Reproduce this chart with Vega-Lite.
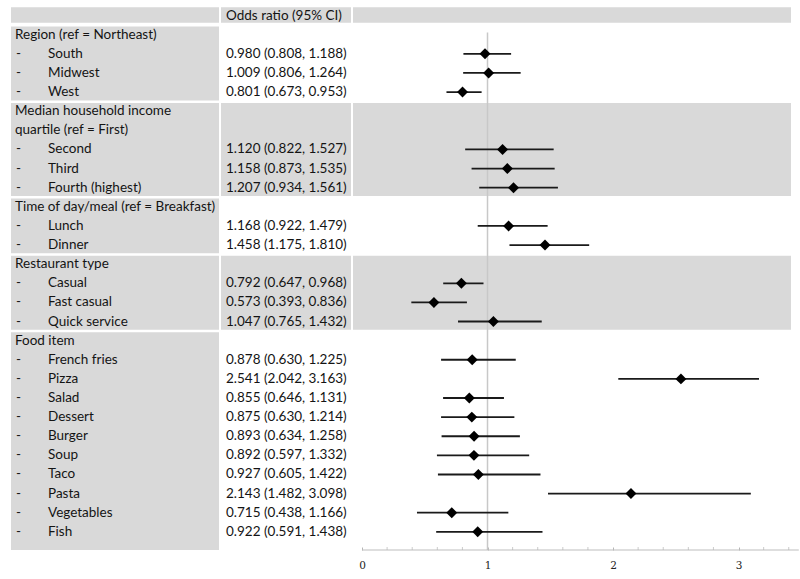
{
  "$schema": "https://vega.github.io/schema/vega-lite/v6.json",
  "padding": {"left": 11, "top": 7, "right": 0, "bottom": 0},
  "background": "white",
  "config": {"view": {"stroke": null}, "text": {"font": "Lato", "fontSize": 13.5, "color": "#141414", "baseline": "middle", "align": "left"}},
  "bounds": "flush",
  "spacing": 2,
  "datasets": {
    "rows": [
      {"row": 0, "kind": "header", "label": "Odds ratio (95% CI)"},
      {"row": 1, "kind": "group", "label": "Region (ref = Northeast)"},
      {"row": 2, "kind": "item", "label": "South", "or": 0.980, "lo": 0.808, "hi": 1.188, "ci": "0.980 (0.808, 1.188)"},
      {"row": 3, "kind": "item", "label": "Midwest", "or": 1.009, "lo": 0.806, "hi": 1.264, "ci": "1.009 (0.806, 1.264)"},
      {"row": 4, "kind": "item", "label": "West", "or": 0.801, "lo": 0.673, "hi": 0.953, "ci": "0.801 (0.673, 0.953)"},
      {"row": 5, "kind": "group", "label": "Median household income"},
      {"row": 6, "kind": "group", "label": "quartile (ref = First)"},
      {"row": 7, "kind": "item", "label": "Second", "or": 1.120, "lo": 0.822, "hi": 1.527, "ci": "1.120 (0.822, 1.527)"},
      {"row": 8, "kind": "item", "label": "Third", "or": 1.158, "lo": 0.873, "hi": 1.535, "ci": "1.158 (0.873, 1.535)"},
      {"row": 9, "kind": "item", "label": "Fourth (highest)", "or": 1.207, "lo": 0.934, "hi": 1.561, "ci": "1.207 (0.934, 1.561)"},
      {"row": 10, "kind": "group", "label": "Time of day/meal (ref = Breakfast)"},
      {"row": 11, "kind": "item", "label": "Lunch", "or": 1.168, "lo": 0.922, "hi": 1.479, "ci": "1.168 (0.922, 1.479)"},
      {"row": 12, "kind": "item", "label": "Dinner", "or": 1.458, "lo": 1.175, "hi": 1.810, "ci": "1.458 (1.175, 1.810)"},
      {"row": 13, "kind": "group", "label": "Restaurant type"},
      {"row": 14, "kind": "item", "label": "Casual", "or": 0.792, "lo": 0.647, "hi": 0.968, "ci": "0.792 (0.647, 0.968)"},
      {"row": 15, "kind": "item", "label": "Fast casual", "or": 0.573, "lo": 0.393, "hi": 0.836, "ci": "0.573 (0.393, 0.836)"},
      {"row": 16, "kind": "item", "label": "Quick service", "or": 1.047, "lo": 0.765, "hi": 1.432, "ci": "1.047 (0.765, 1.432)"},
      {"row": 17, "kind": "group", "label": "Food item"},
      {"row": 18, "kind": "item", "label": "French fries", "or": 0.878, "lo": 0.630, "hi": 1.225, "ci": "0.878 (0.630, 1.225)"},
      {"row": 19, "kind": "item", "label": "Pizza", "or": 2.541, "lo": 2.042, "hi": 3.163, "ci": "2.541 (2.042, 3.163)"},
      {"row": 20, "kind": "item", "label": "Salad", "or": 0.855, "lo": 0.646, "hi": 1.131, "ci": "0.855 (0.646, 1.131)"},
      {"row": 21, "kind": "item", "label": "Dessert", "or": 0.875, "lo": 0.630, "hi": 1.214, "ci": "0.875 (0.630, 1.214)"},
      {"row": 22, "kind": "item", "label": "Burger", "or": 0.893, "lo": 0.634, "hi": 1.258, "ci": "0.893 (0.634, 1.258)"},
      {"row": 23, "kind": "item", "label": "Soup", "or": 0.892, "lo": 0.597, "hi": 1.332, "ci": "0.892 (0.597, 1.332)"},
      {"row": 24, "kind": "item", "label": "Taco", "or": 0.927, "lo": 0.605, "hi": 1.422, "ci": "0.927 (0.605, 1.422)"},
      {"row": 25, "kind": "item", "label": "Pasta", "or": 2.143, "lo": 1.482, "hi": 3.098, "ci": "2.143 (1.482, 3.098)"},
      {"row": 26, "kind": "item", "label": "Vegetables", "or": 0.715, "lo": 0.438, "hi": 1.166, "ci": "0.715 (0.438, 1.166)"},
      {"row": 27, "kind": "item", "label": "Fish", "or": 0.922, "lo": 0.591, "hi": 1.438, "ci": "0.922 (0.591, 1.438)"}
    ],
    "blocks": [
      {"block": "Region", "first": 1, "last": 4, "shaded": false},
      {"block": "Income", "first": 5, "last": 9, "shaded": true},
      {"block": "Time", "first": 10, "last": 12, "shaded": false},
      {"block": "Restaurant", "first": 13, "last": 16, "shaded": true},
      {"block": "Food", "first": 17, "last": 28, "shaded": false}
    ],
    "ticks": [
      {"t": 0.2}, {"t": 0.4}, {"t": 0.6}, {"t": 0.8}, {"t": 1.2}, {"t": 1.4}, {"t": 1.6}, {"t": 1.8},
      {"t": 2.2}, {"t": 2.4}, {"t": 2.6}, {"t": 2.8}, {"t": 3.2}, {"t": 3.4}
    ]
  },
  "hconcat": [
    {
      "width": 208,
      "height": 543,
      "layer": [
        {
          "data": {"name": "rows"},
          "transform": [{"filter": "datum.kind === 'header'"}],
          "mark": {"type": "rect", "color": "#d9d9d9", "yOffset": -8.3, "y2Offset": 7.1},
          "encoding": {
            "x": {"value": 0}, "x2": {"value": "width"},
            "y": {"field": "row", "type": "quantitative", "scale": {"domain": [-0.45, 27.95], "reverse": true, "nice": false, "zero": false}, "axis": null},
            "y2": {"field": "row"}
          }
        },
        {
          "data": {"name": "blocks"},
          "mark": {"type": "rect", "color": "#d9d9d9", "yOffset": -8.3, "y2Offset": 8.3, "clip": true},
          "encoding": {
            "x": {"value": 0}, "x2": {"value": "width"},
            "y": {"field": "first", "type": "quantitative"},
            "y2": {"field": "last"}
          }
        },
        {
          "data": {"name": "rows"},
          "transform": [{"filter": "datum.kind === 'group'"}],
          "mark": {"type": "text", "dx": 4},
          "encoding": {
            "x": {"value": 0},
            "y": {"field": "row", "type": "quantitative"},
            "text": {"field": "label"}
          }
        },
        {
          "data": {"name": "rows"},
          "transform": [{"filter": "datum.kind === 'item'"}],
          "mark": {"type": "text", "dx": 5},
          "encoding": {
            "x": {"value": 0},
            "y": {"field": "row", "type": "quantitative"},
            "text": {"value": "-"}
          }
        },
        {
          "data": {"name": "rows"},
          "transform": [{"filter": "datum.kind === 'item'"}],
          "mark": {"type": "text", "dx": 37},
          "encoding": {
            "x": {"value": 0},
            "y": {"field": "row", "type": "quantitative"},
            "text": {"field": "label"}
          }
        }
      ]
    },
    {
      "width": 130,
      "height": 543,
      "layer": [
        {
          "data": {"name": "rows"},
          "transform": [{"filter": "datum.kind === 'header'"}],
          "mark": {"type": "rect", "color": "#d9d9d9", "yOffset": -8.3, "y2Offset": 7.1},
          "encoding": {
            "x": {"value": 0}, "x2": {"value": "width"},
            "y": {"field": "row", "type": "quantitative", "scale": {"domain": [-0.45, 27.95], "reverse": true, "nice": false, "zero": false}, "axis": null},
            "y2": {"field": "row"}
          }
        },
        {
          "data": {"name": "blocks"},
          "transform": [{"filter": "datum.shaded"}],
          "mark": {"type": "rect", "color": "#d9d9d9", "yOffset": -8.3, "y2Offset": 8.3, "clip": true},
          "encoding": {
            "x": {"value": 0}, "x2": {"value": "width"},
            "y": {"field": "first", "type": "quantitative"},
            "y2": {"field": "last"}
          }
        },
        {
          "data": {"name": "rows"},
          "transform": [{"filter": "datum.kind === 'header'"}],
          "mark": {"type": "text", "dx": 5},
          "encoding": {
            "x": {"value": 0},
            "y": {"field": "row", "type": "quantitative"},
            "text": {"field": "label"}
          }
        },
        {
          "data": {"name": "rows"},
          "transform": [{"filter": "datum.kind === 'item'"}],
          "mark": {"type": "text", "dx": 5},
          "encoding": {
            "x": {"value": 0},
            "y": {"field": "row", "type": "quantitative"},
            "text": {"field": "ci"}
          }
        }
      ]
    },
    {
      "width": 438,
      "height": 543,
      "layer": [
        {
          "data": {"name": "rows"},
          "transform": [{"filter": "datum.kind === 'header'"}],
          "mark": {"type": "rect", "color": "#d9d9d9", "yOffset": -8.3, "y2Offset": 7.1},
          "encoding": {
            "x": {"value": 0}, "x2": {"value": "width"},
            "y": {"field": "row", "type": "quantitative", "scale": {"domain": [-0.45, 27.95], "reverse": true, "nice": false, "zero": false}, "axis": null},
            "y2": {"field": "row"}
          }
        },
        {
          "data": {"name": "blocks"},
          "transform": [{"filter": "datum.shaded"}],
          "mark": {"type": "rect", "color": "#d9d9d9", "yOffset": -8.3, "y2Offset": 8.3, "clip": true},
          "encoding": {
            "x": {"value": 0}, "x2": {"value": "width"},
            "y": {"field": "first", "type": "quantitative"},
            "y2": {"field": "last"}
          }
        },
        {
          "data": {"name": "rows"},
          "transform": [{"filter": "datum.kind === 'header'"}],
          "mark": {"type": "rule", "color": "#c8c8c8", "strokeWidth": 1.5, "yOffset": 17},
          "encoding": {
            "x": {"datum": 1, "type": "quantitative", "scale": {"domain": [-0.0717, 3.418], "nice": false, "zero": false},
              "axis": {"title": null, "grid": false, "domain": false, "values": [0, 1, 2, 3], "format": "d",
                "labelOverlap": false, "labelFlush": false, "tickSize": -3, "tickColor": "#b5b5b5", "labelFont": "DejaVu Serif", "labelFontSize": 10.5, "labelColor": "#222", "labelPadding": 13}},
            "y": {"field": "row", "type": "quantitative"},
            "y2": {"value": "height"}
          }
        },
        {
          "data": {"name": "rows"},
          "transform": [{"filter": "datum.kind === 'header'"}],
          "mark": {"type": "rule", "color": "#bdbdbd", "strokeWidth": 1},
          "encoding": {
            "x": {"datum": 0, "type": "quantitative"},
            "x2": {"datum": 3.48},
            "y": {"value": "height"}
          }
        },
        {
          "data": {"name": "ticks"},
          "mark": {"type": "tick", "orient": "vertical", "color": "#b5b5b5", "thickness": 1, "size": 3, "yOffset": -1.5},
          "encoding": {
            "x": {"field": "t", "type": "quantitative"},
            "y": {"value": "height"}
          }
        },
        {
          "data": {"name": "rows"},
          "transform": [{"filter": "datum.kind === 'item'"}],
          "mark": {"type": "rule", "color": "#1a1a1a", "strokeWidth": 1.8},
          "encoding": {
            "x": {"field": "lo", "type": "quantitative"},
            "x2": {"field": "hi"},
            "y": {"field": "row", "type": "quantitative"}
          }
        },
        {
          "data": {"name": "rows"},
          "transform": [{"filter": "datum.kind === 'item'"}],
          "mark": {"type": "point", "shape": "diamond", "filled": true, "color": "#000", "size": 120, "opacity": 1},
          "encoding": {
            "x": {"field": "or", "type": "quantitative"},
            "y": {"field": "row", "type": "quantitative"}
          }
        }
      ]
    }
  ]
}
